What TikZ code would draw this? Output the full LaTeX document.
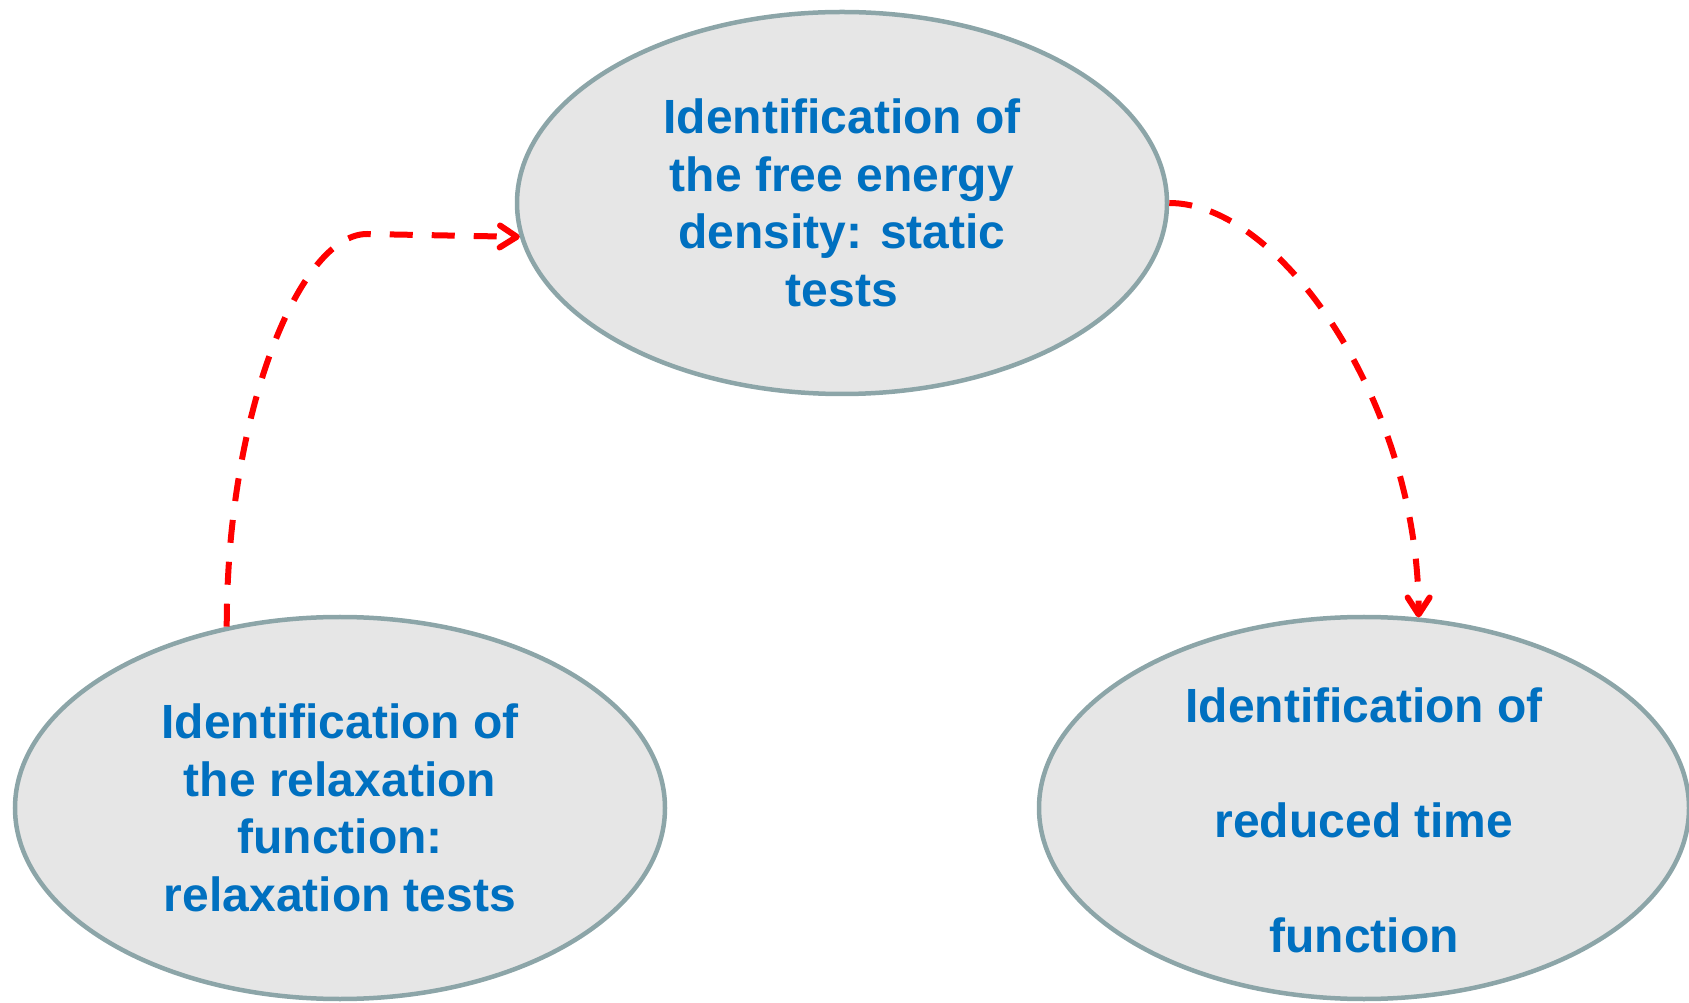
\documentclass[tikz,border=0pt]{standalone}
\usepackage{fontspec}
\setmainfont{Liberation Sans}
\usetikzlibrary{arrows.meta,shapes}
\definecolor{stagefill}{HTML}{E6E6E6}
\definecolor{stageline}{HTML}{8CA5A8}
\definecolor{stagetext}{HTML}{0070C0}
\newcommand{\dropline}[1]{\raisebox{-12pt}[35pt][0pt]{#1}}
\tikzstyle{stage}=[ellipse,draw=stageline,fill=stagefill,line width=4.5pt,minimum width=650pt,minimum height=382pt,inner sep=0pt,align=center,text=stagetext,font=\bfseries\fontsize{48}{57.6}\selectfont]
\tikzstyle{flow} = [draw=red,line width=6pt,dash pattern=on 23pt off 19pt,-{Straight Barb[length=17pt,width=22pt,round]}]

\begin{document}
\begin{tikzpicture}[x=1pt,y=1pt]
    \useasboundingbox (0,0) rectangle (1689,1002);
    % First we draw the three stages
    \node[stage] (free) at (842,799) {Identification of\\the free energy\\density: static\\tests};
    \node[stage] (relax) at (340,194) {Identification of\\the relaxation\\function:\\relaxation tests};
    \node[stage, font=\bfseries\fontsize{48}{115}\selectfont] (reduced) at (1364,194) {\dropline{Identification of}\\\dropline{reduced time}\\\dropline{function}};
    % Then the dashed arrows between them
    \coordinate (bend) at (367,768);
    \path[flow] (relax.122) .. controls +(0,215) and +(-67,0) .. (bend) -- (free.186);
    \path[flow] (free.east) .. controls +(112,0) and +(0,213) .. (reduced.74);
\end{tikzpicture}
\end{document}
